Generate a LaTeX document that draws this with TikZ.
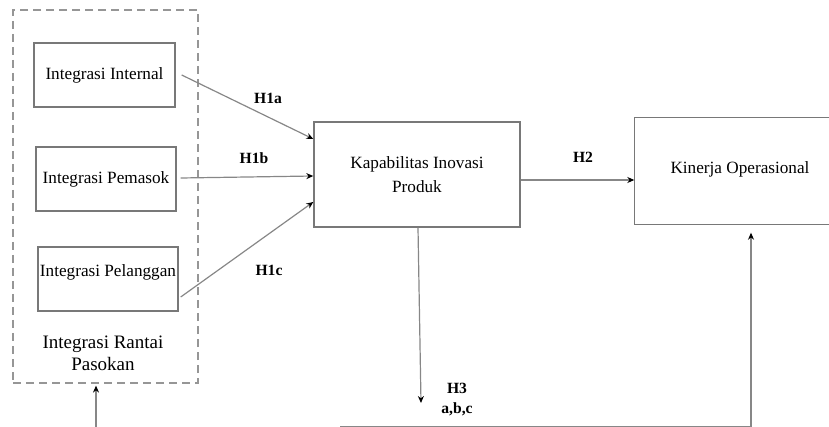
\documentclass[tikz,border=0pt]{standalone}
\usepackage{fontspec}
\setmainfont{Liberation Serif}
\usetikzlibrary{calc}
\usetikzlibrary{arrows.meta}
\usetikzlibrary{positioning}
\definecolor{BoxGray}{RGB}{120,120,120}
\definecolor{LineGray}{RGB}{135,135,135}
\definecolor{DashGray}{RGB}{150,150,150}
\tikzset{
	varbox/.style={draw=BoxGray, line width=0.7pt, inner sep=0pt, align=center, font=\fontsize{8.6}{12}\selectfont},
	hyp/.style={font=\bfseries\fontsize{7.8}{10}\selectfont},
	link/.style={draw=LineGray, line width=0.6pt, -{Stealth[length=3.5pt,width=3pt,color=black]}},
}

\begin{document}
\begin{tikzpicture}[x=0.5pt,y=-0.5pt]
	\useasboundingbox (0,0) rectangle (829,427);
	\clip (0,0) rectangle (829,427);
	
		\node [draw=DashGray, dash pattern=on 4pt off 2.5pt, line width=0.6pt, minimum width=92.5pt, minimum height=186.5pt] (irp) at (105.5,196.5) {}; %group
		
		\node [varbox, minimum width=70.5pt, minimum height=32pt] (int) at (104.5,75) {Integrasi Internal};
		\node [varbox, minimum width=70pt, minimum height=32pt] (pem) at (106,179) {Integrasi Pemasok};
		\node [varbox, minimum width=70pt, minimum height=32pt, text depth=8pt] (pel) at (108,279) {Integrasi Pelanggan};
		\node [font=\fontsize{9.5}{11}\selectfont, align=center] (irplbl) at (103,353) {Integrasi Rantai\\Pasokan};
		
		\node [varbox, minimum width=103pt, minimum height=52.5pt] (kip) at (417,174.5) {Kapabilitas Inovasi\\Produk};
		\node [varbox, draw=none, minimum width=140pt, minimum height=53pt] (kin) at (775,171) {}; %runs off the page
		\draw [BoxGray, line width=0.7pt] (kin.north east) -- (kin.north west) -- (kin.south west) -- (kin.south east);
		\node [font=\fontsize{8.6}{12}\selectfont] (kinlbl) at (740,169) {Kinerja Operasional};
		
		\draw [link] ($(int.east)+(6,0)$) -- ($(kip.west)+(0,-35.5)$);
		\draw [link] ($(pem.east)+(4,-1)$) -- ($(kip.west)+(0,1.5)$);
		\draw [link] ($(pel.east)+(2,18)$) -- ($(kip.west)+(0,27.5)$);
		\draw [link] ($(kip.east)+(0,5.5)$) -- ($(kin.west)+(0,9)$);
		
		\coordinate (h3end) at (421,403);
		\draw [link] ($(kip.south)+(1,0)$) -- (h3end);
		
		\coordinate (fbl) at (96,428);
		\coordinate (fbm) at (340,426.6);
		\coordinate (fbr) at (751,426.6);
		\draw [link, shorten >=1pt] (fbl) -- (fbl |- irp.south);
		\draw [link, shorten >=4pt] (fbm) -- (fbr) -- (fbr |- kin.south);
		
		\node [hyp] (h1a) at (268,98) {H1a};
		\node [hyp] (h1b) at (254,158) {H1b};
		\node [hyp] (h1c) at (269,270) {H1c};
		\node [hyp] (h2) at (583,157) {H2};
		\node [hyp, align=center] (h3) at (457,400) {H3\\a,b,c};
	\end{tikzpicture}
\end{document}
